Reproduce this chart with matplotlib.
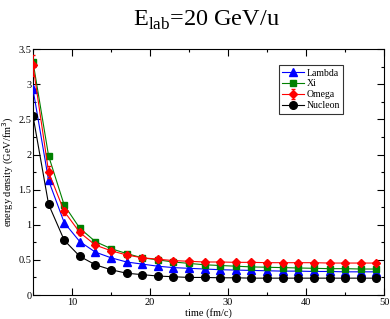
import matplotlib
matplotlib.use("Agg")
import matplotlib.pyplot as plt
from matplotlib.ticker import MultipleLocator

time = [5, 7, 9, 11, 13, 15, 17, 19, 21, 23, 25, 27, 29, 31, 33, 35, 37, 39, 41, 43, 45, 47, 49]
lam = [2.93, 1.63, 1.03, 0.76, 0.61, 0.53, 0.47, 0.44, 0.41, 0.39, 0.38, 0.37, 0.36, 0.355, 0.35, 0.345, 0.34, 0.34, 0.335, 0.335, 0.33, 0.33, 0.33]
xi = [3.32, 1.98, 1.28, 0.95, 0.76, 0.66, 0.59, 0.53, 0.50, 0.47, 0.45, 0.43, 0.42, 0.41, 0.40, 0.395, 0.39, 0.385, 0.38, 0.375, 0.375, 0.37, 0.37]
omega = [3.27, 1.75, 1.19, 0.89, 0.71, 0.63, 0.57, 0.53, 0.51, 0.49, 0.48, 0.47, 0.47, 0.465, 0.465, 0.46, 0.46, 0.46, 0.46, 0.455, 0.455, 0.455, 0.455]
omega_err = [0.15, 0.08, 0.05, 0.04, 0.03, 0.03, 0.02, 0.02, 0.02, 0.02, 0.02, 0.02, 0.02, 0.02, 0.02, 0.02, 0.02, 0.02, 0.02, 0.02, 0.02, 0.02, 0.02]
nucleon = [2.55, 1.29, 0.78, 0.55, 0.43, 0.36, 0.31, 0.29, 0.27, 0.26, 0.25, 0.25, 0.245, 0.245, 0.24, 0.24, 0.24, 0.24, 0.24, 0.24, 0.24, 0.24, 0.24]

plt.rcParams['font.family'] = ['Liberation Serif', 'DejaVu Serif']

fig = plt.figure(figsize=(3.9, 3.19), dpi=100)
ax = fig.add_axes([0.0846, 0.0752, 0.9004, 0.7708])

h1, = ax.plot(time, lam, color='blue', marker='^', markersize=5.5, lw=0.8, label='Lambda', zorder=3)
h2, = ax.plot(time, xi, color='green', marker='s', markersize=5, lw=0.8, label='Xi', zorder=3)
h3 = ax.errorbar(time, omega, yerr=omega_err, color='red', marker='D', markersize=4.5, lw=0.8,
                 elinewidth=0.6, capsize=1.5, label='Omega', zorder=4)
h4, = ax.plot(time, nucleon, color='black', marker='o', markersize=5.5, lw=0.8, label='Nucleon', zorder=5)

ax.set_xlim(5, 50)
ax.set_ylim(0, 3.5)
ax.xaxis.set_major_locator(MultipleLocator(10))
ax.xaxis.set_minor_locator(MultipleLocator(5))
ax.yaxis.set_major_locator(MultipleLocator(0.5))
ax.yaxis.set_minor_locator(MultipleLocator(0.25))
ax.tick_params(which='both', direction='in', top=True, right=True, labelsize=7.5, width=0.8)
ax.tick_params(which='major', length=5)
ax.tick_params(which='minor', length=2.5)
ax.set_xticks([10, 20, 30, 40, 50])
ax.set_yticks([0, 0.5, 1, 1.5, 2, 2.5, 3, 3.5])
ax.set_yticklabels(['0', '0.5', '1', '1.5', '2', '2.5', '3', '3.5'])
ax.tick_params(axis='x', pad=2)
ax.tick_params(axis='y', pad=1)

ax.set_xlabel('time (fm/c)', fontsize=7.5, labelpad=1)
ax.set_ylabel('energy density (GeV/fm$^3$)', fontsize=7.5, labelpad=2)

leg = ax.legend(handles=[h1, h2, h3, h4], labels=['Lambda', 'Xi', 'Omega', 'Nucleon'],
                loc='upper left', bbox_to_anchor=(0.70, 0.935), fontsize=7, frameon=True,
                fancybox=False, edgecolor='black', handlelength=2.2, borderpad=0.35,
                labelspacing=0.2, handletextpad=0.3, borderaxespad=0)
leg.get_frame().set_linewidth(0.8)

fig.text(0.53, 0.935, 'E$_{\\mathregular{lab}}$=20 GeV/u', ha='center', va='center', fontsize=17.5)

fig.savefig('out.png', dpi=100)
